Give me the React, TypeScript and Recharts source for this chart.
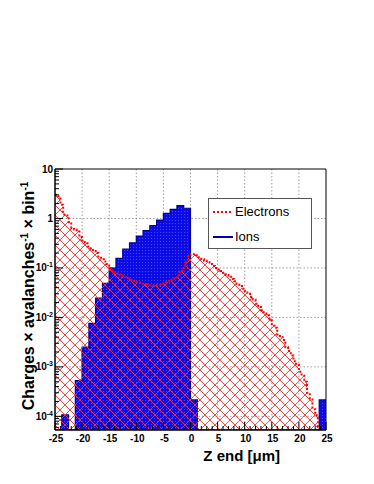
import React from 'react';
import {
  ComposedChart,
  Area,
  XAxis,
  YAxis,
  CartesianGrid,
  Legend,
  ReferenceArea,
} from 'recharts';

// axis ranges
const X_MIN = -25;
const X_MAX = 25;
const Y_MIN = 5.3e-5;
const Y_MAX = 10;

const electronBinWidth = 0.5;
const ionBinWidth = 1.25;

// Electrons: 100 bins of 0.5 um, from -25 to 25
const electrons = [
  3.0, 2.8, 1.9, 1.2, 1.15, 0.85, 0.65, 0.6, 0.58, 0.42,
  0.36, 0.33, 0.27, 0.25, 0.22, 0.2, 0.17, 0.15, 0.135, 0.12,
  0.1, 0.09, 0.08, 0.077, 0.07, 0.068, 0.065, 0.062, 0.058, 0.055,
  0.052, 0.05, 0.048, 0.047, 0.045, 0.045, 0.044, 0.045, 0.046, 0.048,
  0.05, 0.052, 0.055, 0.058, 0.064, 0.072, 0.085, 0.1, 0.13, 0.17,
  0.19, 0.19, 0.18, 0.165, 0.15, 0.14, 0.13, 0.12, 0.11, 0.1,
  0.093, 0.087, 0.08, 0.072, 0.066, 0.06, 0.054, 0.048, 0.043, 0.038,
  0.034, 0.03, 0.026, 0.023, 0.019, 0.017, 0.014, 0.012, 0.011, 0.0095,
  0.0068, 0.0062, 0.0045, 0.0042, 0.0035, 0.0025, 0.0021, 0.0017, 0.0013, 0.0011,
  0.0008, 0.0007, 0.0005, 0.0003, 0.00022, 0.00014, 0.000105, 0, 0, 0,
];

// Ions: 40 bins of 1.25 um, from -25 to 25
const ions = [
  0, 0.000107, 0, 0.00053, 0.0025, 0.0076, 0.0245, 0.049, 0.099, 0.156,
  0.24, 0.32, 0.44, 0.57, 0.72, 0.93, 1.27, 1.53, 1.81, 1.61,
  0.000215, 0, 0, 0, 0, 0, 0, 0, 0, 0,
  0, 0, 0, 0, 0, 0, 0, 0, 0, 0.000215,
];

const xMajorTicks = [-25, -20, -15, -10, -5, 0, 5, 10, 15, 20, 25];
const xGridLines = [-20, -15, -10, -5, 0, 5, 10, 15, 20];
const yDecades = [1e-5, 1e-4, 1e-3, 1e-2, 1e-1, 1, 10];
const yGridLines = [1e-4, 1e-3, 1e-2, 1e-1, 1];

const xTicks: number[] = [];
for (let v = X_MIN; v <= X_MAX; v++) xTicks.push(v);

const yTicks: number[] = [];
yDecades.forEach((d) => {
  for (let m = 1; m <= 9; m++) {
    const v = d * m;
    if (v >= Y_MIN && v <= Y_MAX * 1.0001) yTicks.push(v);
  }
});

// step table on the union of both bin edge sets
const binValue = (arr: number[], w: number, x: number) => {
  let idx = Math.floor((x - X_MIN) / w + 1e-9);
  if (idx >= arr.length) idx = arr.length - 1;
  const v = arr[idx];
  return v > 0 ? v : Y_MIN;
};

const edgeSet = new Set<number>();
for (let i = 0; i <= electrons.length; i++) edgeSet.add(+(X_MIN + i * electronBinWidth).toFixed(4));
for (let i = 0; i <= ions.length; i++) edgeSet.add(+(X_MIN + i * ionBinWidth).toFixed(4));
const histData = [...edgeSet]
  .sort((a, b) => a - b)
  .map((x) => ({
    x,
    electrons: binValue(electrons, electronBinWidth, x),
    ions: binValue(ions, ionBinWidth, x),
  }));

const FONT = '"Liberation Sans", Arial, Helvetica, sans-serif';

const XTick = ({ x, y, payload }: any) => {
  const v = payload.value;
  const major = xMajorTicks.includes(v);
  return (
    <g>
      <line x1={x} x2={x} y1={y} y2={y - (major ? 8 : 4)} stroke="#000" strokeWidth={1} />
      {major && (
        <text x={x + 1} y={y + 12} textAnchor="middle" fontFamily={FONT} fontWeight="bold" fontSize={10} fill="#000">
          {v}
        </text>
      )}
    </g>
  );
};

const YTick = ({ x, y, payload }: any) => {
  const v = payload.value;
  const lg = Math.log10(v);
  const k = Math.round(lg);
  const major = Math.abs(lg - k) < 1e-6;
  let label: React.ReactNode = null;
  if (major) {
    if (k === 0 || k === 1) {
      label = (
        <text x={x - 2} y={y + 3.5} textAnchor="end" fontFamily={FONT} fontWeight="bold" fontSize={10} fill="#000">
          {k === 0 ? '1' : '10'}
        </text>
      );
    } else {
      label = (
        <text x={x - 2} y={y + 3.5} textAnchor="end" fontFamily={FONT} fontWeight="bold" fontSize={10} fill="#000">
          10
          <tspan dy={-4} fontSize={7}>{k}</tspan>
        </text>
      );
    }
  }
  return (
    <g>
      <line x1={x} x2={x + (major ? 8 : 4)} y1={y} y2={y} stroke="#000" strokeWidth={1} />
      {label}
    </g>
  );
};

const XTitle = ({ viewBox }: any) => (
  <text
    x={viewBox.x + viewBox.width - 46}
    y={viewBox.y + 31}
    textAnchor="end"
    fontFamily={FONT}
    fontWeight="bold"
    fontSize={15}
    fill="#000"
  >
    Z end [μm]
  </text>
);

const YTitle = ({ viewBox }: any) => {
  const cx = viewBox.x + viewBox.width - 21;
  const cy = viewBox.y + 127;
  return (
    <text
      x={cx}
      y={cy}
      transform={`rotate(-90 ${cx} ${cy})`}
      textAnchor="middle"
      fontFamily={FONT}
      fontWeight="bold"
      fontSize={16}
      fill="#000"
    >
      Charges × avalanches
      <tspan dy={-6} fontSize={10}>-1</tspan>
      <tspan dy={6}> × bin</tspan>
      <tspan dy={-6} fontSize={10}>-1</tspan>
    </text>
  );
};

const LegendBox = () => (
  <div
    style={{
      width: 104,
      height: 51,
      boxSizing: 'border-box',
      border: '1px solid #555',
      background: '#fff',
      fontFamily: FONT,
      fontSize: 13,
      color: '#000',
      position: 'relative',
    }}
  >
    <svg width={24} height={6} style={{ position: 'absolute', left: 3, top: 10 }}>
      <line x1={1} x2={21} y1={3} y2={3} stroke="#ff0000" strokeWidth={2} strokeDasharray="2 2" />
    </svg>
    <span style={{ position: 'absolute', left: 26, top: 5 }}>Electrons</span>
    <svg width={24} height={6} style={{ position: 'absolute', left: 3, top: 35 }}>
      <line x1={1} x2={21} y1={3} y2={3} stroke="#0000a0" strokeWidth={2} />
    </svg>
    <span style={{ position: 'absolute', left: 26, top: 30 }}>Ions</span>
  </div>
);

export default function App() {
  return (
    <div style={{ position: 'absolute', left: 0, top: 0, width: 374, height: 484, background: '#fff' }}>
      <ComposedChart
        width={374}
        height={484}
        data={histData}
        margin={{ top: 169, right: 48, bottom: 53, left: 54 }}
      >
        <defs>
          <pattern id="redHatch" width="10" height="10" patternUnits="userSpaceOnUse">
            <path d="M0,0 L10,10 M10,0 L0,10" stroke="#ff3030" strokeWidth={0.9} fill="none" />
          </pattern>
          <pattern id="blueFill" width="3" height="3" patternUnits="userSpaceOnUse">
            <rect width="3" height="3" fill="#0c0ce6" />
            <rect x="1" y="1" width="1" height="1" fill="#4444ff" />
          </pattern>
        </defs>
        <CartesianGrid
          horizontalValues={yGridLines}
          verticalValues={xGridLines}
          stroke="#888"
          strokeDasharray="1.5 2"
          strokeWidth={0.8}
        />
        <XAxis
          dataKey="x"
          type="number"
          domain={[X_MIN, X_MAX]}
          ticks={xTicks}
          interval={0}
          height={1}
          tickSize={0}
          tickMargin={0}
          tickLine={false}
          axisLine={{ stroke: '#000' }}
          tick={<XTick />}
          allowDataOverflow
          label={(p: any) => <XTitle {...p} />}
        />
        <YAxis
          type="number"
          scale="log"
          domain={[Y_MIN, Y_MAX]}
          ticks={yTicks}
          interval={0}
          width={1}
          tickSize={0}
          tickMargin={0}
          tickLine={false}
          axisLine={{ stroke: '#000' }}
          tick={<YTick />}
          allowDataOverflow
          label={(p: any) => <YTitle {...p} />}
        />
        <Area
          type="stepAfter"
          dataKey="ions"
          name="Ions"
          stroke="#000090"
          strokeWidth={1.2}
          fill="url(#blueFill)"
          fillOpacity={1}
          isAnimationActive={false}
        />
        <Area
          type="stepAfter"
          dataKey="electrons"
          name="Electrons"
          stroke="#ff0000"
          strokeWidth={2}
          strokeDasharray="2 2"
          fill="url(#redHatch)"
          fillOpacity={1}
          isAnimationActive={false}
        />
        <ReferenceArea
          x1={X_MIN}
          x2={X_MAX}
          y1={Y_MIN}
          y2={Y_MAX}
          fill="none"
          stroke="#000"
          strokeWidth={1}
          ifOverflow="visible"
        />
        <Legend
          layout="vertical"
          align="center"
          verticalAlign="middle"
          wrapperStyle={{ left: 208, top: 198, width: 104, height: 51 }}
          content={() => <LegendBox />}
        />
      </ComposedChart>
    </div>
  );
}
